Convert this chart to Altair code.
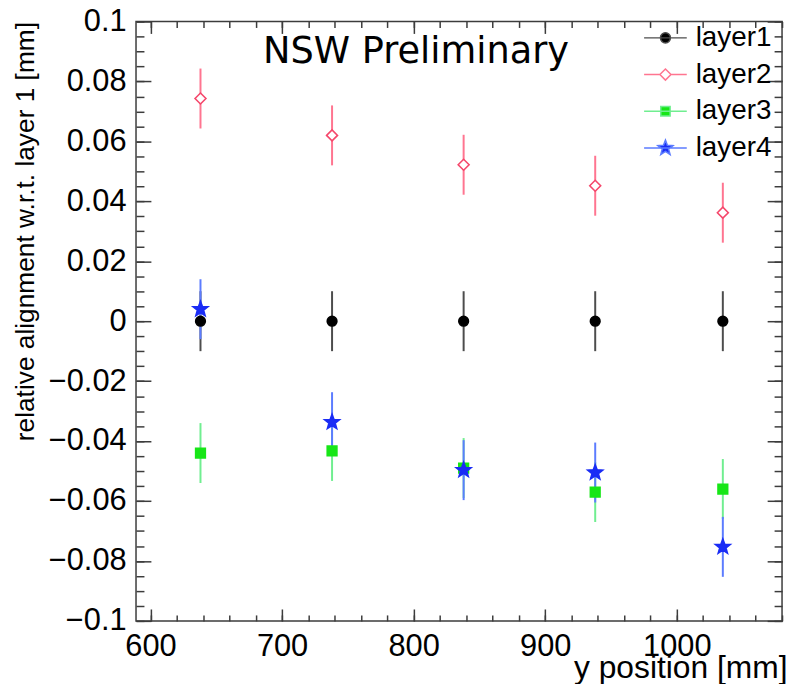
import math
import altair as alt
import pandas as pd

# ---------------- data ----------------
layer_names = ["layer1", "layer2", "layer3", "layer4"]
y_position = [638, 738, 838, 938, 1035]
align_layer1 = [0.0, 0.0, 0.0, 0.0, 0.0]
align_layer2 = [0.0743, 0.0620, 0.0522, 0.0452, 0.0362]
align_layer3 = [-0.0440, -0.0433, -0.0490, -0.0570, -0.0560]
align_layer4 = [0.0040, -0.0337, -0.0497, -0.0505, -0.0753]
err_layer1 = [0.010, 0.010, 0.010, 0.010, 0.010]
err_layer2 = [0.010, 0.010, 0.010, 0.010, 0.010]
err_layer3 = [0.010, 0.010, 0.010, 0.010, 0.010]
err_layer4 = [0.010, 0.010, 0.010, 0.010, 0.010]

x_major_ticks = [600, 700, 800, 900, 1000]
x_minor_ticks = [600 + 20 * i for i in range(25)]
y_major_ticks = [-0.1, -0.08, -0.06, -0.04, -0.02, 0.0, 0.02, 0.04, 0.06, 0.08, 0.1]
y_minor_ticks = [round(-0.1 + 0.005 * i, 3) for i in range(41)]

values = [align_layer1, align_layer2, align_layer3, align_layer4]
errors = [err_layer1, err_layer2, err_layer3, err_layer4]
rows = []
for name, vals, errs in zip(layer_names, values, errors):
    for p, v, e in zip(y_position, vals, errs):
        rows.append({"layer": name, "pos": p, "val": v, "lo": v - e, "hi": v + e})
df = pd.DataFrame(rows)

# ---------------- styling ----------------
W, H = 651, 604
AX = "#3c3c3c"
FONT = "Liberation Sans"
fill_colors = ["#000000", "#ffffff", "#17e617", "#1a2cf5"]
stroke_colors = ["#000000", "#f5476b", "#17e617", "#1a2cf5"]
bar_colors = ["#4d4d4d", "#ff7590", "#70ee90", "#5c7cff"]

xscale = alt.Scale(domain=[589, 1080], nice=False, zero=False)
yscale = alt.Scale(domain=[-0.1, 0.1], nice=False, zero=False)


def tick_axis(orient, offset, vals, size):
    return alt.Axis(orient=orient, offset=offset, values=vals, tickSize=size,
                    ticks=True, labels=False, domain=False, grid=False, title=None,
                    tickColor=AX, tickWidth=1.5)


main_x = alt.Axis(orient="bottom", values=x_major_ticks, format="d", grid=False,
                  ticks=False, tickSize=0, domain=False,
                  labelFont=FONT, labelFontSize=31, labelColor="black", labelPadding=11,
                  labelFlush=False, labelOverlap=False,
                  title="y position [mm]", titleFont=FONT, titleFontSize=32,
                  titleFontWeight="normal", titleColor="black", titleAnchor="end",
                  titleAlign="right", titleBaseline="alphabetic", titleX=W + 5, titleY=57)
main_y = alt.Axis(orient="left", values=y_major_ticks, format=".2~f", grid=False,
                  ticks=False, tickSize=0, domain=False,
                  labelFont=FONT, labelFontSize=31, labelColor="black", labelPadding=10,
                  labelFlush=False, labelOverlap=False,
                  title="relative alignment w.r.t. layer 1 [mm]", titleFont=FONT,
                  titleFontSize=26.5, titleFontWeight="normal", titleColor="black",
                  titleAngle=270, titleAnchor="end", titleAlign="right",
                  titleBaseline="alphabetic", titleX=-103, titleY=0)


# symbol paths in the unit square [-1, 1]
def f(v):
    return f"{v:.3f}"


def circle_path(r):
    return f"M{f(-r)},0A{f(r)},{f(r)},0,1,1,{f(r)},0A{f(r)},{f(r)},0,1,1,{f(-r)},0Z"


def star_path(R, ri):
    pts = []
    for k in range(10):
        ang = -math.pi / 2 + k * math.pi / 5
        rr = R if k % 2 == 0 else ri
        pts.append((rr * math.cos(ang), rr * math.sin(ang)))
    return "M" + "L".join(f"{f(x)},{f(y)}" for x, y in pts) + "Z"


STAR = star_path(1.0, 0.42)
shapes = ["circle", "diamond", "square", STAR]
sizes = [95, 121, 95, 250]

# legend symbols: line + marker
p1 = "M-1,0H1" + circle_path(0.235)
p2 = "M-1,0H-0.26M0.26,0H1M0,-0.26L0.26,0L0,0.26L-0.26,0Z"
p3 = "M-1,0H1M-0.22,-0.22H0.22V0.22H-0.22Z"
p4 = "M-1,0H1" + star_path(0.37, 0.155)
sym_expr = (f"datum.value == 'layer1' ? '{p1}' : datum.value == 'layer2' ? '{p2}' : "
            f"datum.value == 'layer3' ? '{p3}' : '{p4}'")

leg_a = alt.Legend(title=None, orient="none", legendX=511, legendY=-6, padding=0,
                   symbolType={"expr": sym_expr}, symbolSize=1849, symbolStrokeWidth=1.5,
                   labelFont=FONT, labelFontSize=28, labelColor="black",
                   labelOffset=8, labelLimit=400, rowPadding=-3.3)
leg_b = alt.Legend(title=None)

fill_scale = alt.Scale(domain=layer_names, range=fill_colors)
stroke_scale = alt.Scale(domain=layer_names, range=stroke_colors)

base = alt.Chart(df)

bars = base.mark_rule(strokeWidth=2).encode(
    x=alt.X("pos:Q", scale=xscale, axis=main_x),
    y=alt.Y("lo:Q", scale=yscale, axis=main_y),
    y2="hi:Q",
    color=alt.Color("layer:N", scale=alt.Scale(domain=layer_names, range=bar_colors), legend=leg_a),
)

point_layers = []
for i, name in enumerate(layer_names):
    if i == 0:
        xa = tick_axis("top", -H, x_major_ticks, 12)
        ya = tick_axis("right", -W, y_major_ticks, 15)
    else:
        xa = None
        ya = None
    pl = base.transform_filter(alt.datum.layer == name).mark_point(
        filled=True, opacity=1, strokeWidth=1.6, shape=shapes[i], size=sizes[i]
    ).encode(
        x=alt.X("pos:Q", scale=xscale, axis=xa),
        y=alt.Y("val:Q", scale=yscale, axis=ya),
        fill=alt.Fill("layer:N", scale=fill_scale, legend=leg_b),
        stroke=alt.Stroke("layer:N", scale=stroke_scale, legend=None),
    )
    point_layers.append(pl)

frame_b = base.mark_point(opacity=0).encode(
    x=alt.X("pos:Q", scale=xscale, axis=tick_axis("top", -H, x_minor_ticks, 6)),
    y=alt.Y("val:Q", scale=yscale, axis=tick_axis("right", -W, y_minor_ticks, 8)),
)
frame_c = base.mark_point(opacity=0).encode(
    x=alt.X("pos:Q", scale=xscale, axis=tick_axis("bottom", -H, x_major_ticks, 12)),
    y=alt.Y("val:Q", scale=yscale, axis=tick_axis("left", -W, y_major_ticks, 15)),
)
frame_d = base.mark_point(opacity=0).encode(
    x=alt.X("pos:Q", scale=xscale, axis=tick_axis("bottom", -H, x_minor_ticks, 6)),
    y=alt.Y("val:Q", scale=yscale, axis=tick_axis("left", -W, y_minor_ticks, 8)),
)

chart = alt.layer(frame_b, frame_c, frame_d, bars, *point_layers).resolve_axis(
    x="independent", y="independent"
).properties(
    width=W, height=H,
    padding={"left": 129, "top": 11, "right": 5, "bottom": 61},
    autosize=alt.AutoSizeParams(type="none"),
    title=alt.TitleParams(text="NSW Preliminary", anchor="start", frame="group", dx=128, dy=95,
                          offset=0, baseline="alphabetic", font="DejaVu Sans", fontSize=37,
                          fontWeight="normal", color="black"),
).configure_view(stroke=AX, strokeWidth=1.5)

chart.save("out.html", embed_options={"renderer": "svg", "actions": False})
